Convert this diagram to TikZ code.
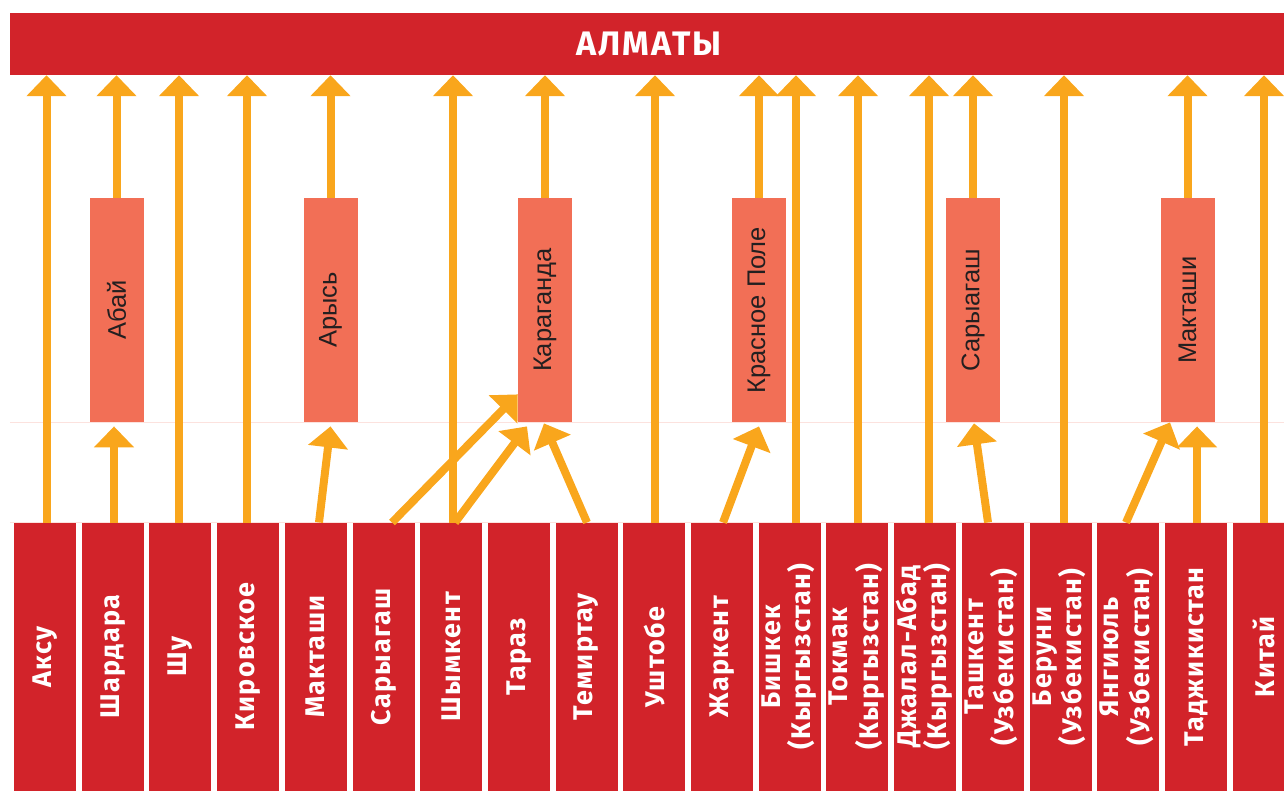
\documentclass[tikz,border=0pt]{standalone}
\usepackage{fontspec}
\setmainfont{Fira Sans}
\newfontfamily\cityfont{Fira Sans}[LetterSpace=5]
\newfontfamily\titlefont{Fira Sans}[LetterSpace=6.5]
\newfontfamily\midfont{Liberation Sans}
\usepackage{graphicx}
\usetikzlibrary{arrows.meta,calc}
\definecolor{barred}{RGB}{210,35,42}
\definecolor{salmon}{RGB}{242,111,86}
\definecolor{arr}{RGB}{249,166,28}
\definecolor{faint}{RGB}{252,226,222}
\definecolor{ink}{RGB}{35,31,32}
\newcommand\vtxt[1]{\rotatebox{90}{#1}}
\newcommand\vtwo[2]{\rotatebox{90}{\begin{tabular}{@{}c@{}}#1\\#2\end{tabular}}}
\begin{document}
\begin{tikzpicture}[x=1pt,y=-1pt,
  citybox/.style={fill=barred, draw=none, minimum width=62pt, minimum height=268pt,
    inner sep=0pt, anchor=north, text=white, font=\cityfont\bfseries\fontsize{27}{24}\selectfont},
  midbox/.style={fill=salmon, draw=none, minimum width=54pt, minimum height=224pt,
    inner sep=0pt, anchor=north, text=ink, font=\midfont\fontsize{25.5}{28}\selectfont},
  flow/.style={draw=arr, line width=8pt, -{Triangle[width=39pt,length=21pt]}},
  guide/.style={draw=faint, line width=1pt}
]
\useasboundingbox (0,0) rectangle (1284,790);

% top bar
\node[fill=barred, minimum width=1274pt, minimum height=62pt, inner sep=0pt,
  text=white, font=\titlefont\bfseries\fontsize{34}{40}\selectfont] (almaty) at (647,44) {\hspace*{4pt}АЛМАТЫ};

% middle boxes
\node[midbox] (abay)  at (116.5,198) {\vtxt{Абай}};
\node[midbox] (arys)  at (330.5,198) {\vtxt{Арысь}};
\node[midbox] (karag) at (545,198)   {\vtxt{Караганда}};
\node[midbox] (kpole) at (759,198)   {\vtxt{Красное Поле}};
\node[midbox] (saryM) at (973,198)   {\vtxt{Сарыагаш}};
\node[midbox] (maktM) at (1187.5,198){\vtxt{Макташи}};

% guide lines
\draw[guide] (almaty.west |- abay.south) -- (almaty.east |- abay.south);
\draw[guide] (almaty.west |- 0,522.5) -- (almaty.east |- 0,522.5);

% bottom boxes
\node[citybox] (aksu)   at (45.0,522.5)   {\vtxt{Аксу}};
\node[citybox] (shard)  at (112.7,522.5)  {\vtxt{Шардара}};
\node[citybox] (shu)    at (180.4,522.5)  {\vtxt{Шу}};
\node[citybox] (kirov)  at (248.1,522.5)  {\vtxt{Кировское}};
\node[citybox] (makt)   at (315.8,522.5)  {\vtxt{Макташи}};
\node[citybox] (sary)   at (383.5,522.5)  {\vtxt{Сарыагаш}};
\node[citybox] (shym)   at (451.2,522.5)  {\vtxt{Шымкент}};
\node[citybox] (taraz)  at (518.9,522.5)  {\vtxt{Тараз}};
\node[citybox] (temir)  at (586.6,522.5)  {\vtxt{Темиртау}};
\node[citybox] (usht)   at (654.3,522.5)  {\vtxt{Уштобе}};
\node[citybox] (zhark)  at (722.0,522.5)  {\vtxt{Жаркент}};
\node[citybox] (bish)   at (789.7,522.5)  {\vtwo{Бишкек}{(Кыргызстан)}};
\node[citybox] (tokm)   at (857.4,522.5)  {\vtwo{Токмак}{(Кыргызстан)}};
\node[citybox] (dzhal)  at (925.1,522.5)  {\vtwo{Джалал-Абад}{(Кыргызстан)}};
\node[citybox] (tash)   at (992.8,522.5)  {\vtwo{Ташкент}{(Узбекистан)}};
\node[citybox] (beru)   at (1060.5,522.5) {\vtwo{Беруни}{(Узбекистан)}};
\node[citybox] (yangi)  at (1128.2,522.5) {\vtwo{Янгиюль}{(Узбекистан)}};
\node[citybox] (tadzh)  at (1195.9,522.5) {\vtxt{Таджикистан}};
\node[citybox] (kitay)  at (1263.6,522.5) {\vtxt{Китай}};

% arrows from middle boxes to the top bar
\foreach \m in {abay,arys,karag,kpole,saryM,maktM}
  \draw[flow] (\m.north) -- (\m.north |- almaty.south);

% direct arrows from bottom boxes to the top bar
\coordinate (s-aksu)  at ([xshift=1.5pt]aksu.north);
\coordinate (s-shu)   at ([xshift=-1.4pt]shu.north);
\coordinate (s-kirov) at ([xshift=-1.1pt]kirov.north);
\coordinate (s-shym)  at ([xshift=1.8pt]shym.north);
\coordinate (s-usht)  at ([xshift=0.7pt]usht.north);
\coordinate (s-bish)  at ([xshift=6.3pt]bish.north);
\coordinate (s-tokm)  at ([xshift=0.6pt]tokm.north);
\coordinate (s-dzhal) at ([xshift=3.9pt]dzhal.north);
\coordinate (s-beru)  at ([xshift=3.5pt]beru.north);
\coordinate (s-kitay) at ([xshift=0.4pt]kitay.north);
\foreach \s in {aksu,shu,kirov,shym,usht,bish,tokm,dzhal,beru,kitay}
  \draw[flow] (s-\s) -- (s-\s |- almaty.south);

% arrows from bottom boxes to middle boxes
\coordinate (s-shard) at ([xshift=1.3pt]shard.north);
\coordinate (t-shard) at ($(abay.south)+(-2.5,4)$);
\draw[flow] (s-shard) -- (t-shard);

\coordinate (s-makt) at ([xshift=3.2pt]makt.north);
\coordinate (t-makt) at ($(arys.south)+(0,4)$);
\draw[flow] (s-makt) -- (t-makt);

\coordinate (s-sary) at ([xshift=8.5pt]sary.north);
\coordinate (t-sary) at ($(karag.south west)+(0,-28)$);
\draw[flow] (s-sary) -- (t-sary);

\coordinate (s-shym2) at ([xshift=3.8pt]shym.north);
\coordinate (t-shym2) at ($(karag.south)+(-18,4)$);
\draw[flow] (s-shym2) -- (t-shym2);

\coordinate (s-temir) at ([xshift=0.4pt]temir.north);
\coordinate (t-temir) at ($(karag.south)+(-1,1)$);
\draw[flow] (s-temir) -- (t-temir);

\coordinate (s-zhark) at ([xshift=1pt]zhark.north);
\coordinate (t-zhark) at ($(kpole.south)+(0,4)$);
\draw[flow] (s-zhark) -- (t-zhark);

\coordinate (s-tash) at ([xshift=-4.8pt]tash.north);
\coordinate (t-tash) at ($(saryM.south)+(1,1)$);
\draw[flow] (s-tash) -- (t-tash);

\coordinate (s-yangi) at ([xshift=-2.2pt]yangi.north);
\coordinate (t-yangi) at ($(maktM.south)+(-17.5,0)$);
\draw[flow] (s-yangi) -- (t-yangi);

\coordinate (s-tadzh) at ([xshift=1.1pt]tadzh.north);
\coordinate (t-tadzh) at (s-tadzh |- t-shard);
\draw[flow] (s-tadzh) -- (t-tadzh);
\end{tikzpicture}
\end{document}
